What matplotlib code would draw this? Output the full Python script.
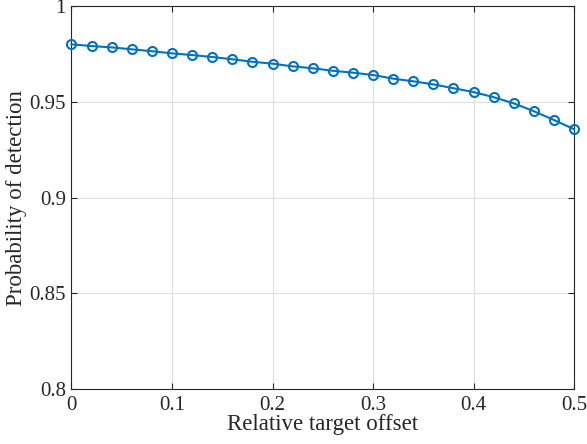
import numpy as np
import matplotlib
matplotlib.use("Agg")
import matplotlib.pyplot as plt

# relative offset vs detection probability
offset = [0.00, 0.02, 0.04, 0.06, 0.08, 0.10, 0.12, 0.14, 0.16, 0.18, 0.20, 0.22, 0.24,
          0.26, 0.28, 0.30, 0.32, 0.34, 0.36, 0.38, 0.40, 0.42, 0.44, 0.46, 0.48, 0.50]
pd_vals = [0.9800, 0.9791, 0.9784, 0.9774, 0.9764, 0.9753, 0.9744, 0.9734, 0.9722,
           0.9709, 0.9699, 0.9685, 0.9675, 0.9662, 0.9652, 0.9640, 0.9621, 0.9607,
           0.9591, 0.9571, 0.9551, 0.9524, 0.9492, 0.9451, 0.9405, 0.9357]
xticks = [0, 0.1, 0.2, 0.3, 0.4, 0.5]
xtick_labels = ['0', '0.1', '0.2', '0.3', '0.4', '0.5']
yticks = [0.8, 0.85, 0.9, 0.95, 1.0]
ytick_labels = ['0.8', '0.85', '0.9', '0.95', '1']

plt.rcParams['font.family'] = ['Liberation Serif', 'DejaVu Serif']
txt = '#262626'

fig = plt.figure(figsize=(5.87, 4.44), dpi=100)
ax = fig.add_axes([0.1218, 0.1232, 0.978 - 0.1218, 0.9865 - 0.1232])

ax.plot(offset, pd_vals, color='#0072BD', lw=1.5, marker='o', ms=6.5,
        mfc='none', mec='#0072BD', mew=1.5, clip_on=False, zorder=3)

ax.set_xlim(0, 0.5)
ax.set_ylim(0.8, 1.0)
ax.set_xticks(xticks)
ax.set_xticklabels(xtick_labels)
ax.set_yticks(yticks)
ax.set_yticklabels(ytick_labels)
ax.grid(True, color='#dfdfdf', lw=0.8)
ax.set_axisbelow(True)
ax.tick_params(direction='in', top=True, right=True, length=4, width=0.8,
               colors=txt, labelsize=15, pad=4)
ax.tick_params(axis='x', pad=5)
for s in ax.spines.values():
    s.set_color(txt)
    s.set_linewidth(0.8)

ax.set_xlabel('Relative target offset', fontsize=16.5, color=txt, labelpad=-1)
ax.set_ylabel('Probability of detection', fontsize=16.5, color=txt, labelpad=2)

fig.savefig('out.png', dpi=100)
